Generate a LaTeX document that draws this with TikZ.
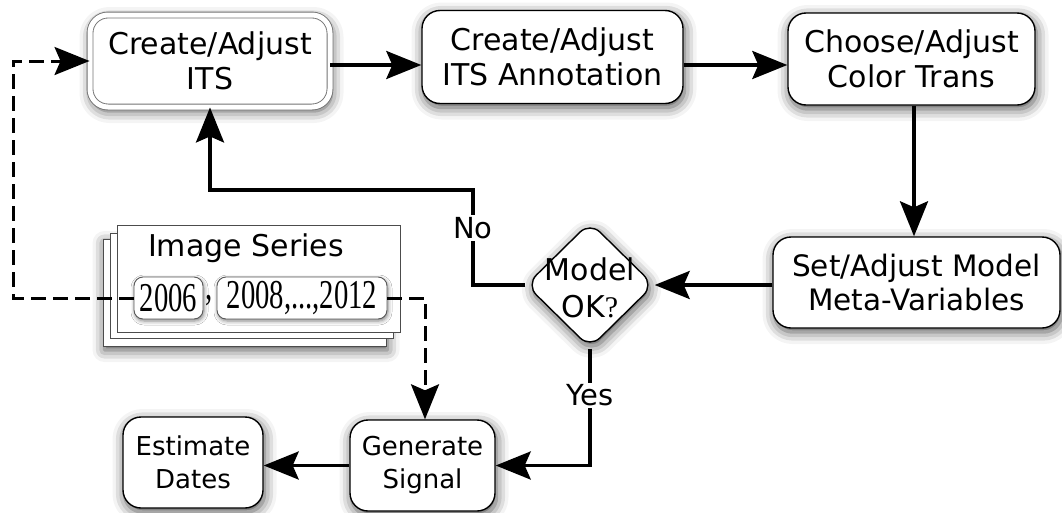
\documentclass[tikz,border=0pt]{standalone}
\usepackage{fontspec}
\setmainfont{DejaVu Sans}
\newfontfamily\serifnum[FakeStretch=0.7]{Liberation Serif}
\newfontfamily\serifq{Liberation Serif}
\usetikzlibrary{arrows.meta,shapes.geometric,shadows.blur}

\begin{document}
\begin{tikzpicture}[x=1pt,y=-1pt,
  shad/.style={blur shadow={shadow xshift=1.5pt,shadow yshift=-4pt,shadow blur radius=12pt,shadow opacity=70}},
  proc/.style={draw=black, line width=1.4pt, fill=white, rounded corners=18pt, align=center, inner sep=0pt, shad},
  bigtxt/.style={font=\fontsize{30}{35}\selectfont},
  midtxt/.style={font=\fontsize{29.5}{34}\selectfont},
  smalltxt/.style={font=\fontsize{26}{33}\selectfont},
  tip/.style={-{Stealth[length=35pt,width=28pt,inset=6pt,fill=black,color=black]}},
  flow/.style={line width=3.3pt, draw=black, fill opacity=1, draw opacity=1, tip},
  dflow/.style={line width=3pt, draw=black, dash pattern=on 15pt off 7pt, tip},
  lbl/.style={fill=white, inner sep=2pt, font=\fontsize{29}{29}\selectfont},
  sheet/.style={draw=black!70, line width=1pt, fill=white},
  yearbox/.style={draw=black!65, line width=0.9pt, fill=white, rounded corners=9pt, inner sep=0pt,
    blur shadow={shadow xshift=1pt, shadow yshift=-2pt, shadow blur radius=4pt, shadow opacity=50},
    font=\serifnum\fontsize{41}{41}\selectfont}
]
\useasboundingbox (0,0) rectangle (1062,512);

% stack of image sheets
\draw[sheet, shad] (103,239) rectangle (386,346);
\draw[sheet] (110,233) rectangle (393,338);
\draw[sheet] (117,225) rectangle (400,332);
\node[font=\fontsize{30}{30}\selectfont] (IS) at (246,248) {Image Series};
\node[yearbox, minimum width=69pt, minimum height=42pt] (Y1) at (168.5,298) {2006};
\node[font=\serifnum\fontsize{41}{41}\selectfont, inner sep=0pt] (cm) at (209.5,301) {,};
\node[yearbox, minimum width=170pt, minimum height=42pt] (Y2) at (302,298) {2008,...,2012};

% process boxes
\node[proc, bigtxt, minimum width=240pt, minimum height=92pt, draw=black!55, line width=0.9pt,
      double=white, double distance=5pt] (B1) at (210,61) {Create/Adjust\\ITS};
\node[proc, bigtxt, minimum width=261pt, minimum height=93pt] (B2) at (552.5,57) {Create/Adjust\\ITS Annotation};
\node[proc, bigtxt, minimum width=247pt, minimum height=92pt] (B3) at (911.5,59) {Choose/Adjust\\Color Trans};
\node[proc, midtxt, minimum width=287pt, minimum height=91pt] (B4) at (916.5,282.5) {Set/Adjust Model\\Meta-Variables};
\node[draw=black, line width=1.4pt, fill=white, shape=diamond, rounded corners=14pt, inner sep=0pt,
      minimum width=128pt, minimum height=126pt, shad,
      label={[align=center, font=\fontsize{30}{37}\selectfont, yshift=-3pt]center:Model\\OK{\serifq ?}}] (D) at (590,285) {};
\node[proc, smalltxt, minimum width=145pt, minimum height=91pt] (GS) at (422.5,465.5) {Generate\\Signal};
\node[proc, smalltxt, minimum width=140pt, minimum height=91pt] (ED) at (193,462.5) {Estimate\\Dates};

% helper points for the connectors
\coordinate (toprow) at (0,65);
\coordinate (vline) at (914,0);
\coordinate (nocorner) at (473,190);
\coordinate (dl) at (13,61);
\coordinate (dr) at (425,298);

% solid flow
\draw[flow] (B1.east |- toprow) -- (B2.west |- toprow);
\draw[flow] (B2.east |- toprow) -- (B3.west |- toprow);
\draw[flow] (B3.south -| vline) -- (B4.north -| vline);
\draw[flow] (B4.west |- D.east) -- (D.east);
\draw[flow] (D.west) -| node[lbl, pos=0.8] {No} (nocorner) -| (B1.south);
\draw[flow] (D.south) |- node[lbl, pos=0.2] {Yes} (GS.east);
\draw[flow] (GS.west) -- (GS.west -| ED.east);

% dashed flow from the image series
\draw[dflow] (Y1.west) -| (dl) -- (B1.west);
\draw[dflow] (Y2.east) -- (dr) -- (dr |- GS.north);
\end{tikzpicture}
\end{document}
